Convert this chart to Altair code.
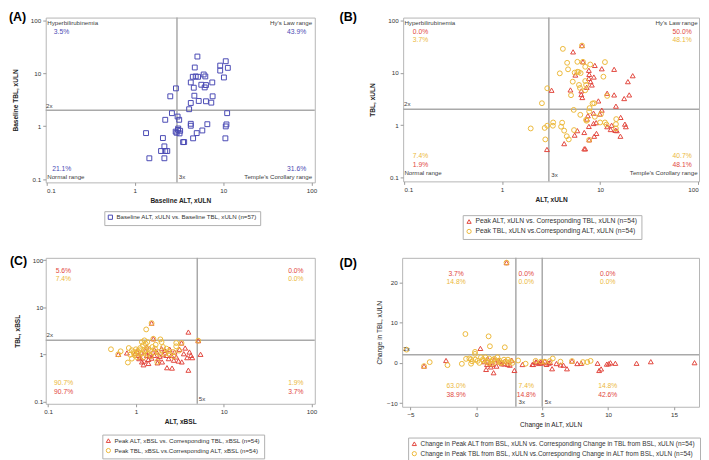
import altair as alt
import pandas as pd

FONT = "Liberation Sans"
TXT = "#404040"
BLUE = "#4b4bb4"
RED = "#e2483e"
GOLD = "#ecb83a"
LINE = "#a9a9a9"

# ---------------- Panel A: baseline ----------------
a_alt = [5.11, 10.7, 9.26, 11.3, 9.26, 4.77, 6.02, 4.53, 4.89, 5.2, 6.28, 10.2, 4.3, 7.53, 5.66, 6.39,
         6.18, 4.65, 2.92, 2.52, 4.72, 7.6, 5.29, 6.39, 7.34, 4.3, 4.12, 2.63, 3.05, 11.1, 2.21, 3.18,
         4.3, 4.3, 6.62, 10.9, 10.7, 3.1, 3.26, 2.97, 3.21, 5.81, 5.02, 1.34, 2.08, 4.57, 10.6, 3.62,
         3.52, 2.16, 1.98, 2.21, 2.33, 1.46, 2.16, 3.08, 2.9]
a_tbl = [20.6, 16.8, 13.9, 12.6, 11.2, 12.8, 9.45, 8.55, 8.68, 8.55, 8.68, 8.3, 6.69, 6.69, 6.05, 5.97,
         5.39, 5.32, 5.17, 3.66, 3.76, 3.66, 2.99, 2.95, 2.78, 2.74, 2.09, 1.76, 1.52, 1.76, 1.32, 1.32,
         1.11, 1.02, 1.09, 1.08, 0.99, 0.905, 0.819, 0.751, 0.73, 0.83, 0.74, 0.74, 0.597, 0.59, 0.59, 0.502,
         0.50, 0.416, 0.34, 0.34, 0.34, 0.248, 0.248, 0.85, 0.79]
a_labels = ["Baseline ALT, xULN vs. Baseline TBL, xULN (n=57)"]

# ---------------- Panel B: peak xULN ----------------
b_tri_alt = [5.3, 6.53, 6.68, 8.83, 10.4, 13.9, 5.59, 7.68, 7.74, 7.68, 7.99, 8.63, 8.24, 19.2, 21.5, 3.2,
             4.98, 6.43, 6.43, 6.58, 11.8, 13.9, 19.8, 17.6, 14.5, 7.3, 9.6,
             10.4, 9.93, 8.57, 7.5, 7.35, 16.2, 9.11, 11.8, 13.1, 17.9, 18.3, 14.3, 14.8, 5.86, 7.68, 6.89,
             9.18, 8.7, 16.1, 5.5, 7.74, 4.3, 6.89, 7.05, 8.57, 12.8, 2.87]
b_tri_tbl = [25.3, 33.4, 16.3, 13.9, 12.0, 11.7, 9.1, 11.2, 9.36, 7.86, 6.79, 8.33, 5.87, 6.79, 8.83, 4.64,
             4.71, 4.51, 3.84, 3.37, 4.07, 3.78, 3.78, 3.22, 2.3, 5.3, 2.9,
             1.93, 1.62, 1.69, 1.51, 1.3, 1.4, 1.11, 0.93, 0.99, 1.04, 0.93, 0.79, 0.78, 0.78, 0.94, 0.72,
             0.69, 0.61, 0.61, 0.64, 0.52, 0.44, 0.35, 0.35, 1.07, 0.82, 0.34]
b_cir_alt = [4.17, 6.53, 4.61, 5.86, 6.68, 7.93, 11.2, 7.05, 4.71, 3.88, 5.5, 5.86, 6.04, 6.33, 5.26, 6.09,
             7.05, 7.2, 6.23, 5.05, 7.05, 8.37, 8.7, 11.8, 10.8, 7.81,
             2.89, 2.55,
             5.38, 6.28, 7.74, 8.83, 7.2, 10.2, 11.2, 14.6, 14.5, 7.27, 4.1, 3.32, 3.3, 4.0, 4.3, 5.42,
             4.57, 4.79, 11.6, 14.5, 10.0, 7.74,
             2.89, 2.72, 1.96, 2.76]
b_cir_tbl = [28.9, 33.4, 15.6, 16.3, 16.3, 14.5, 16.1, 13.1, 11.7, 9.8, 10.1, 10.5, 10.4, 9.9, 6.79, 5.87,
             6.98, 5.87, 5.14, 3.73, 4.64, 2.59, 2.62, 3.62, 8.45, 2.11,
             5.07, 2.62,
             1.95, 1.57, 1.82, 1.44, 1.26, 1.62, 1.12, 1.3, 1.04, 1.21, 1.11, 1.12, 0.97, 0.93, 0.78, 0.8,
             0.61, 0.53, 1.02, 0.86, 1.12, 0.52,
             0.97, 0.88, 0.86, 0.53]
b_labels = ["Peak ALT, xULN vs. Corresponding TBL, xULN (n=54)",
            "Peak TBL, xULN vs.Corresponding ALT, xULN (n=54)"]

# ---------------- Panel C: peak xBSL ----------------
c_tri_alt = [1.51, 3.96, 1.58, 3.31, 5.13, 0.63, 5.45, 0.79, 3.96, 2.26, 2.58, 3.06, 3.33, 3.64, 4.07, 4.24,
             3.83, 4.39, 2.76, 2.43, 2.53, 1.96, 2.04, 1.79, 1.76, 1.39, 1.22, 1.24, 1.09, 1.07, 0.98, 1.15,
             1.29, 1.33, 1.45, 1.62, 1.62, 1.72, 1.87, 2.13, 2.23, 2.36, 2.88, 3.14, 3.51, 1.12, 1.51, 1.39,
             1.99, 1.17, 1.03, 1.33, 1.42, 2.7]
c_tri_tbl = [4.6, 2.97, 2.14, 1.74, 1.95, 1.0, 1.0, 1.07, 0.46, 0.52, 0.51, 0.72, 0.69, 1.36, 1.12, 0.95,
             0.85, 0.85, 1.12, 1.28, 0.95, 1.32, 0.98, 0.81, 0.66, 0.64, 0.6, 0.72, 0.81, 0.95, 1.03, 1.08,
             1.16, 0.95, 1.03, 1.25, 0.95, 1.12, 0.91, 1.21, 0.95, 0.81, 0.88, 1.28, 1.03, 0.87, 0.83, 0.78,
             0.69, 0.69, 1.16, 1.43, 0.92, 0.75]
c_cir_alt = [1.51, 1.31, 1.58, 1.9, 5.13, 3.31, 0.63, 0.52, 0.67, 0.81, 0.83, 0.9, 0.94, 1.0, 1.05, 1.12,
             1.17, 1.25, 1.2, 1.29, 1.35, 1.39, 1.27, 1.17, 1.07, 0.97, 0.86, 1.45, 1.54, 1.68, 1.96, 2.04,
             2.23, 2.88, 2.64, 2.43, 2.13, 1.79, 1.65, 1.36, 1.22, 1.03, 0.9, 1.87, 2.33, 1.75, 2.88, 1.1,
             1.3, 0.95, 1.6, 2.7, 1.48, 3.1]
c_cir_tbl = [4.6, 3.38, 2.14, 2.08, 1.95, 1.74, 1.0, 1.28, 1.16, 0.67, 1.36, 1.22, 1.12, 1.28, 1.18, 1.36,
             1.82, 1.98, 1.55, 1.68, 1.82, 1.32, 1.16, 1.03, 1.07, 0.95, 0.98, 1.22, 1.43, 1.6, 1.82, 1.43,
             1.32, 1.74, 1.12, 1.0, 1.03, 1.12, 1.32, 1.03, 0.87, 0.87, 0.81, 1.0, 1.16, 0.69, 1.48, 1.22,
             1.25, 1.05, 1.1, 0.9, 0.92, 1.2]
c_labels = ["Peak ALT, xBSL vs. Corresponding TBL, xBSL (n=54)",
            "Peak TBL, xBSL vs.Corresponding ALT, xBSL (n=54)"]

# ---------------- Panel D: change from baseline ----------------
d_tri_alt = [2.29, 0.31,
             -3.97, -2.3, 0.81, 1.31, 0.74, 1.68, 1.94, 2.89, 2.14, 2.39, 2.69, 0.85, 1.03, 1.23, 1.53,
             1.73, 2.1, 2.54, 1.36, 0.6, 1.1,
             4.32, 4.52, 4.75, 4.95, 4.25, 4.57, 4.87, 3.5,
             5.05, 5.2, 5.33, 5.5, 5.75, 6.08, 6.61, 6.88, 7.26, 7.66, 7.96, 9.2, 9.32, 9.47, 10.05, 10.18,
             10.55, 12.16, 13.24, 16.56, 5.6, 6.4, 9.9]
d_tri_tbl = [24.9, 3.6,
             -0.8, 0.6, -0.39, -2.44, -1.62, 0.68, -0.22, -1.87, 0.44, -0.39, 0.68, 1.07, 0.0, -0.4, -0.8,
             0.26, -0.25, -0.57, 0.8, 0.3, -1.0,
             -0.39, 0.27, -0.14, 0.02, -0.38, 0.19, 0.19, -0.4,
             0.03, 0.44, -0.38, -0.06, -1.45, -0.16, -0.57, -1.46, 0.45, -0.16, -0.1, -0.1, -1.88, -1.5, -0.2, 0.03,
             -0.1, -0.1, 0.3, 0.05, 0.1, -0.5, -0.3]
d_cir_alt = [2.29, -0.83, 0.93, 1.03, 2.16, -0.1, -0.1, -5.3,
             -3.97, -3.54, -2.19, -1.1, -0.78, -0.53, -0.4, -0.33, -0.07, 0.23, 0.35, 0.53, 0.68, 0.78,
             0.98, 1.1, 1.18, 1.36, 1.48, 1.6, 1.73, 1.93, 2.1, 2.24, 2.44, 2.6, 2.74, -0.4, 0.1, 0.5,
             1.25, 1.8, 2.4, 0.9,
             3.17, 3.74, 4.5, 4.9,
             5.2, 5.58, 5.8, 6.38, 7.26, 8.09, 8.42, 8.67]
d_cir_tbl = [24.9, 7.17, 6.6, 4.13, 3.88, 2.73, 2.24, 3.3,
             -0.8, 0.18, -0.56, -0.23, 1.0, 1.1, -0.2, 0.4, 0.8, 0.0, 1.4, 0.6, 1.4, 0.3,
             1.1, 0.4, -0.2, 1.0, 0.3, 1.4, 0.6, 0.0, 0.8, 0.3, 0.0, 0.4, 0.0, 0.9, 0.5, 0.9,
             0.7, 0.1, 0.8, 0.0,
             0.6, -0.2, 0.5, 0.3,
             0.3, 0.44, 1.1, 0.3, 0.45, 0.2, 0.2, 0.5]
d_labels = ["Change in Peak ALT from BSL, xULN vs. Corresponding Change in TBL from BSL, xULN (n=54)",
            "Change in Peak TBL from BSL, xULN vs.Corresponding Change in ALT from BSL, xULN (n=54)"]

# ---------------- Annotations: (text, x, y, colour, align) ----------------
a_notes = [("Hyperbilirubinemia", 0.102, 82, TXT, "left"), ("3.5%", 0.121, 56, BLUE, "left"),
           ("Hy's Law range", 101.6, 82, TXT, "right"), ("43.9%", 87, 56, BLUE, "right"),
           ("21.1%", 0.116, 0.141, BLUE, "left"), ("Normal range", 0.102, 0.1, TXT, "left"),
           ("31.6%", 87, 0.141, BLUE, "right"), ("Temple's Corollary range", 101.6, 0.1, TXT, "right"),
           ("2x", 0.099, 2.24, TXT, "left"), ("3x", 3.15, 0.1, TXT, "left")]
b_notes = [("Hyperbilirubinemia", 0.101, 84, TXT, "left"), ("0.0%", 0.123, 56.6, RED, "left"),
           ("3.7%", 0.123, 38.6, GOLD, "left"), ("Hy's Law range", 98.6, 84, TXT, "right"),
           ("50.0%", 85.8, 56.6, RED, "right"), ("48.1%", 85.8, 38.6, GOLD, "right"),
           ("7.4%", 0.123, 0.231, GOLD, "left"), ("1.9%", 0.123, 0.156, RED, "left"),
           ("Normal range", 0.101, 0.11, TXT, "left"), ("40.7%", 85.8, 0.231, GOLD, "right"),
           ("48.1%", 85.8, 0.156, RED, "right"), ("Temple's Corollary range", 98.6, 0.11, TXT, "right"),
           ("2x", 0.1, 2.3, TXT, "left"), ("3x", 3.18, 0.103, TXT, "left")]
c_notes = [("5.6%", 0.122, 53, RED, "left"), ("7.4%", 0.122, 35.6, GOLD, "left"),
           ("0.0%", 81.3, 53, RED, "right"), ("0.0%", 81.3, 35.6, GOLD, "right"),
           ("90.7%", 0.117, 0.218, GOLD, "left"), ("90.7%", 0.117, 0.143, RED, "left"),
           ("1.9%", 81.3, 0.218, GOLD, "right"), ("3.7%", 81.3, 0.143, RED, "right"),
           ("2x", 0.096, 2.3, TXT, "left"), ("5x", 5.2, 0.103, TXT, "left")]
d_notes = [("3.7%", -1.53, 21.65, RED, "center"), ("14.8%", -1.53, 19.6, GOLD, "center"),
           ("0.0%", 3.79, 21.65, RED, "center"), ("0.0%", 3.79, 19.6, GOLD, "center"),
           ("0.0%", 9.97, 21.65, RED, "center"), ("0.0%", 9.97, 19.6, GOLD, "center"),
           ("63.0%", -1.53, -6.3, GOLD, "center"), ("38.9%", -1.53, -8.37, RED, "center"),
           ("7.4%", 3.79, -6.3, GOLD, "center"), ("14.8%", 3.79, -8.37, RED, "center"),
           ("14.8%", 9.97, -6.3, GOLD, "center"), ("42.6%", 9.97, -8.37, RED, "center"),
           ("2x", -5.55, 3.0, TXT, "left"), ("3x", 3.2, -10.3, TXT, "left"), ("5x", 5.2, -10.3, TXT, "left")]

LOG_TICKS = [0.1, 1, 10, 100]


def panel(series, labels, colors, shapes, psize, xs, ys, xtitle, ytitle, xvals, yvals, fmt,
          vlines, notes, title, tdx, tdy, w, h, legx, legy, bold, ylabpad, ytitlepad, legfs):
    xx, yy, ss = [], [], []
    for (px, py), lab in zip(series, labels):
        xx += px
        yy += py
        ss += [lab] * len(px)
    df = pd.DataFrame({"x": xx, "y": yy, "series": ss})
    weight = "bold" if bold else "normal"
    xaxis = alt.Axis(values=xvals, format=fmt, title=xtitle, titleFontWeight=weight,
                     titlePadding=4, labelPadding=2)
    yaxis = alt.Axis(values=yvals, format=fmt, title=ytitle, titleFontWeight=weight,
                     titlePadding=ytitlepad, labelPadding=ylabpad)

    def X():
        return alt.X("x:Q", scale=xs, axis=xaxis)

    def Y():
        return alt.Y("y:Q", scale=ys, axis=yaxis)

    leg = alt.Legend(orient="none", legendX=legx, legendY=legy, direction="vertical", title=None,
                     labelFontSize=legfs)
    pts = alt.Chart(df).mark_point(filled=False, size=psize, strokeWidth=1, opacity=1).encode(
        x=X(), y=Y(),
        color=alt.Color("series:N", scale=alt.Scale(domain=labels, range=colors), legend=leg),
        shape=alt.Shape("series:N", scale=alt.Scale(domain=labels, range=shapes), legend=leg),
    )
    vr = alt.Chart(pd.DataFrame({"x": vlines})).mark_rule(color=LINE, strokeWidth=1.5).encode(x=X())
    hr = alt.Chart(pd.DataFrame({"y": [2]})).mark_rule(color=LINE, strokeWidth=1.5).encode(y=Y())
    layers = [vr, hr, pts]
    groups = {}
    for t, x, y, c, a in notes:
        groups.setdefault((a, c), []).append((t, x, y))
    for (a, c), rows in groups.items():
        ndf = pd.DataFrame(rows, columns=["t", "x", "y"])
        fs = 6.2 if c == TXT else 6.8
        layers.append(alt.Chart(ndf).mark_text(align=a, baseline="alphabetic", color=c, font=FONT,
                                               fontSize=fs).encode(x=X(), y=Y(), text="t:N"))
    # panel letter, anchored at the top-left corner of the plot area
    tdf = pd.DataFrame({"t": [title], "x": [xs.domain[0]], "y": [ys.domain[1]]})
    layers.append(alt.Chart(tdf).mark_text(align="left", baseline="alphabetic", color="black", font=FONT,
                                           fontSize=12.5, fontWeight="bold", dx=tdx, dy=tdy)
                  .encode(x=X(), y=Y(), text="t:N"))
    return alt.layer(*layers).properties(width=w, height=h)


A = panel([(a_alt, a_tbl)], a_labels, [BLUE], ["square"], 24,
          alt.Scale(type="log", domain=[0.098, 109], nice=False),
          alt.Scale(type="log", domain=[0.087, 112], nice=False),
          "Baseline ALT, xULN", "Baseline TBL, xULN", LOG_TICKS, LOG_TICKS, "~g",
          [3], a_notes, "(A)", -37, 3, 271, 166, 59, 195, True, 2, 12, 6.2)
B = panel([(b_tri_alt, b_tri_tbl), (b_cir_alt, b_cir_tbl)], b_labels, [RED, GOLD],
          ["triangle-up", "circle"], 24,
          alt.Scale(type="log", domain=[0.098, 102], nice=False),
          alt.Scale(type="log", domain=[0.083, 115], nice=False),
          "ALT, xULN", "TBL, xULN", LOG_TICKS, LOG_TICKS, "~g",
          [3], b_notes, "(B)", -64, 3, 298, 165, 60, 199, True, 2, 12, 6.8)
C = panel([(c_tri_alt, c_tri_tbl), (c_cir_alt, c_cir_tbl)], c_labels, [RED, GOLD],
          ["triangle-up", "circle"], 24,
          alt.Scale(type="log", domain=[0.094, 109], nice=False),
          alt.Scale(type="log", domain=[0.089, 112], nice=False),
          "ALT, xBSL", "TBL, xBSL", LOG_TICKS, LOG_TICKS, "~g",
          [5], c_notes, "(C)", -36, 7, 271, 147, 57, 178, True, 0, 12, 6.2)
D = panel([(d_tri_alt, d_tri_tbl), (d_cir_alt, d_cir_tbl)], d_labels, [RED, GOLD],
          ["triangle-up", "circle"], 24,
          alt.Scale(domain=[-5.63, 16.9], nice=False, zero=False),
          alt.Scale(domain=[-10.9, 26.1], nice=False, zero=False),
          "Change in ALT, xULN", "Change in TBL, xULN", [-5, 0, 5, 10, 15], [-10, 0, 10, 20], "d",
          [3, 5], d_notes, "(D)", -63, 9, 299, 150, 6, 181, False, 2, 4, 6.5)

row1 = alt.hconcat(A, B, spacing=89, bounds="flush").resolve_scale(color="independent", shape="independent")
row2 = alt.hconcat(C, D, spacing=88, bounds="flush").resolve_scale(color="independent", shape="independent")
chart = alt.vconcat(row1, row2, spacing=242, bounds="flush").resolve_scale(
    color="independent", shape="independent"
).properties(padding=0).configure_axis(
    labelFont=FONT, labelFontSize=6.3, labelColor="#333333", titleFont=FONT, titleFontSize=6.6,
    titleColor="#222222", grid=False, domain=False, tickColor="#999999", tickSize=3,
).configure_view(stroke="#b5b5b5", strokeWidth=1).configure_legend(
    labelFont=FONT, labelFontSize=6.2, labelColor="#333333", strokeColor="#b0b0b0", padding=3,
    rowPadding=1, symbolSize=18, symbolStrokeWidth=1, labelLimit=0, labelOffset=3,
)

chart.save("out.html", embed_options={"renderer": "svg", "actions": False})
